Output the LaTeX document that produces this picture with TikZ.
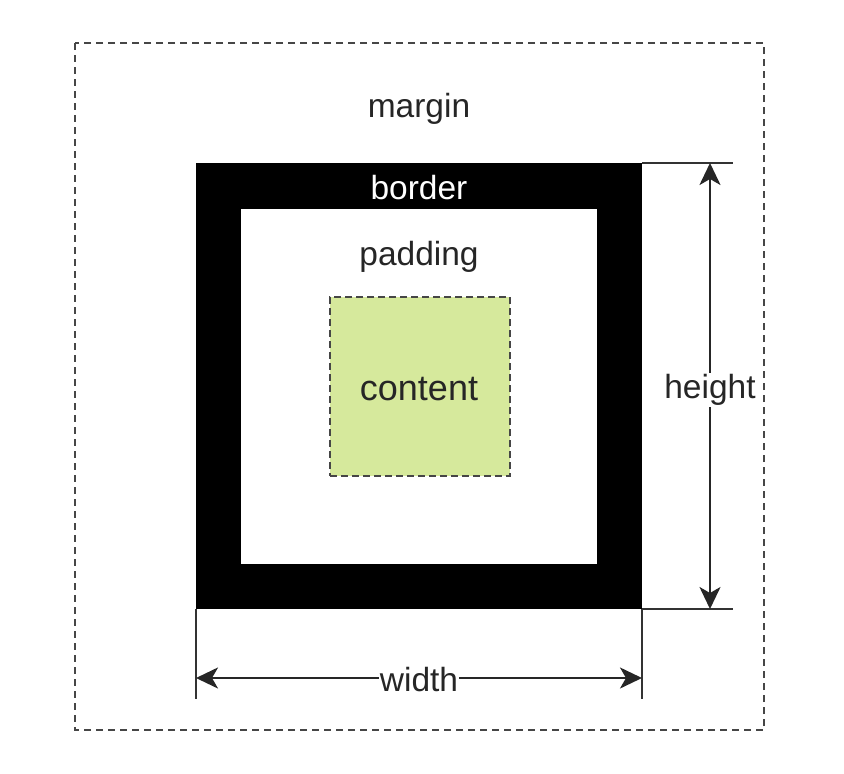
\documentclass[tikz,border=0pt]{standalone}
\usepackage{fontspec}
\setmainfont{Liberation Sans}
\usetikzlibrary{arrows.meta}
\definecolor{contentgreen}{RGB}{214,233,156}
\definecolor{dashgrey}{RGB}{70,70,70}
\begin{document}
\begin{tikzpicture}[x=1pt,y=-1pt,
  marginbox/.style={draw=dashgrey,line width=2.6pt,dash pattern=on 7pt off 5pt},
  contentbox/.style={draw=dashgrey,fill=contentgreen,line width=2.2pt,dash pattern=on 7pt off 4pt},
  extline/.style={draw=black!80,line width=2.2pt},
  dimarrow/.style={draw=black!85,line width=2.4pt,{Stealth[length=22pt,width=21pt,inset=6pt]}-{Stealth[length=22pt,width=21pt,inset=6pt]}},
  lbl/.style={font=\fontsize{33.5}{38}\selectfont,inner sep=1pt,text=black!85},
]
\useasboundingbox (0,0) rectangle (844,774);
% margin area
\draw[marginbox] (75,43) rectangle (764,730);
% border ring
\fill[black] (196,163) rectangle (642,609);
\fill[white] (241,209) rectangle (597,564);
% content box
\node[contentbox,minimum width=180pt,minimum height=179pt,inner sep=0pt] (content) at (420,386.5) {};
\node[lbl,font=\fontsize{36}{40}\selectfont] (ctext) at (419,389) {content};
% labels
\node[lbl] (margin) at (419,109) {margin};
\node[lbl,text=white] (border) at (419,188) {border};
\node[lbl] (padding) at (419,257) {padding};
% extension lines
\coordinate (tr) at (642,163);
\coordinate (br) at (642,609);
\coordinate (bl) at (196,609);
\coordinate (trx) at (733,163);
\coordinate (brx) at (733,609);
\coordinate (bly) at (196,699);
\coordinate (bry) at (642,699);
\draw[extline] (tr) -- (trx);
\draw[extline] (br) -- (brx);
\draw[extline] (bl) -- (bly);
\draw[extline] (br) -- (bry);
% dimension arrows
\coordinate (htop) at (710,163);
\coordinate (hbot) at (710,609);
\coordinate (wl) at (196,678);
\coordinate (wr) at (642,678);
\draw[dimarrow] (htop) -- (hbot);
\draw[dimarrow] (wl) -- (wr);
\node[lbl,fill=white] (height) at (710,390) {height};
\node[lbl,fill=white] (width) at (419,680) {width};
\end{tikzpicture}
\end{document}
